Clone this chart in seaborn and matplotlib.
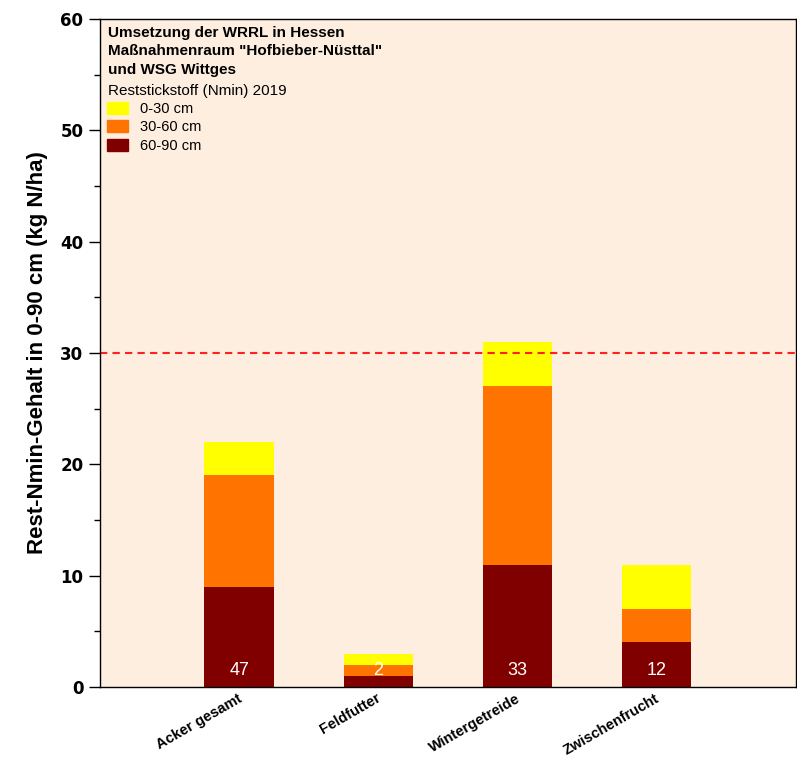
import matplotlib
matplotlib.use('Agg')
import matplotlib.pyplot as plt
import matplotlib.patches as mpatches
import matplotlib.transforms as mtrans
import pandas as pd
import seaborn as sns

# Data
categories = ['Acker gesamt', 'Feldfutter', 'Wintergetreide', 'Zwischenfrucht']
n_0_30 = [3, 1, 4, 4]
n_30_60 = [10, 1, 16, 3]
n_60_90 = [9, 1, 11, 4]
counts = [47, 2, 33, 12]
limit = 30

layer_names = ['0-30 cm', '30-60 cm', '60-90 cm']
layer_colors = ['#FFFF00', '#FF7300', '#800000']
bg = '#FDEEE0'

df = pd.DataFrame({'kultur': categories, 'a': n_0_30, 'b': n_30_60, 'c': n_60_90})
df['c_top'] = df['c']
df['b_top'] = df['c'] + df['b']
df['a_top'] = df['c'] + df['b'] + df['a']

sns.set_style('ticks')
plt.rcParams['font.family'] = ['Liberation Sans', 'DejaVu Sans']
plt.rcParams['text.color'] = 'black'
plt.rcParams['axes.labelcolor'] = 'black'
plt.rcParams['xtick.color'] = 'black'
plt.rcParams['ytick.color'] = 'black'

fig = plt.figure(figsize=(7.97, 7.61), dpi=100)
ax = fig.add_axes([0.1255, 0.0972, 0.873, 0.878])
ax.set_facecolor(bg)

# stacked bars: draw cumulative heights, tallest first
for col, color in zip(['a_top', 'b_top', 'c_top'], layer_colors):
  sns.barplot(data=df, x='kultur', y=col, color=color, width=0.5,
              saturation=1, ax=ax, edgecolor='none')

for i, n in enumerate(counts):
  ax.text(i, 0.75, str(n), color='white', ha='center', va='bottom', fontsize=13)

ax.axhline(limit, color='#FF2020', linestyle=(0, (3.5, 2.5)), linewidth=1.5)

ax.set_xlim(-1, 4)
ax.set_ylim(0, 60)
ax.set_yticks([0, 10, 20, 30, 40, 50, 60])
ax.set_yticks([5, 15, 25, 35, 45, 55], minor=True)
ax.tick_params(axis='y', which='major', length=8, width=1, pad=4)
ax.tick_params(axis='y', which='minor', length=4, width=1)
ax.tick_params(axis='x', length=0, pad=3)
ax.set_yticklabels([str(v) for v in [0, 10, 20, 30, 40, 50, 60]],
                   fontweight='bold', fontsize=12, family='DejaVu Sans')
ax.set_xticks(range(len(categories)))
ax.set_xticklabels(categories, rotation=30, ha='right', va='top',
                   rotation_mode='anchor', fontweight='bold', fontsize=10.5)
offset = mtrans.ScaledTranslation(-0.02, 0, fig.dpi_scale_trans)
for lbl in ax.get_xticklabels():
  lbl.set_transform(lbl.get_transform() + offset)
ax.set_xlabel('')
ax.set_ylabel('Rest-Nmin-Gehalt in 0-90 cm (kg N/ha)', fontsize=16,
              fontweight='bold', labelpad=9)
for s in ax.spines.values():
  s.set_visible(True)
  s.set_color('black')
  s.set_linewidth(1)

# title block and legend
ax.text(0.0115, 0.990, 'Umsetzung der WRRL in Hessen\nMaßnahmenraum "Hofbieber-Nüsttal"\nund WSG Wittges',
        transform=ax.transAxes, va='top', ha='left', fontsize=11,
        fontweight='bold', linespacing=1.42)
ax.text(0.0115, 0.902, 'Reststickstoff (Nmin) 2019', transform=ax.transAxes,
        va='top', ha='left', fontsize=11)
handles = [mpatches.Patch(color=c, label=l) for c, l in zip(layer_colors, layer_names)]
ax.legend(handles=handles, loc='upper left', bbox_to_anchor=(0.010, 0.876),
          frameon=False, fontsize=10.5, handlelength=1.45, handleheight=0.9,
          handletextpad=0.8, labelspacing=0.3, borderaxespad=0, borderpad=0)

fig.savefig('out.png', dpi=100, facecolor='white')
